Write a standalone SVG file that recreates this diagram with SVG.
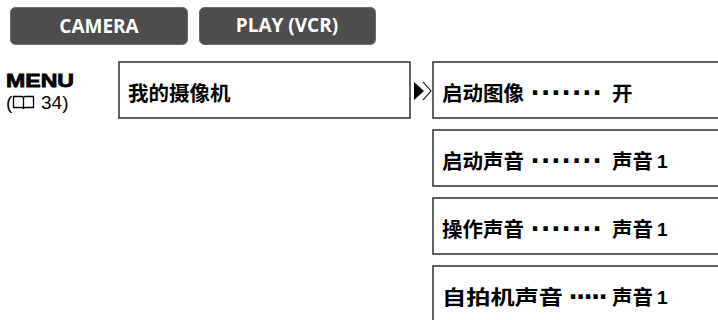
<svg xmlns="http://www.w3.org/2000/svg" width="718" height="320" viewBox="0 0 718 320">
<style>
.btn{fill:#4d4d4d;stroke:#6a6a6a;stroke-width:1}
.btxt{font-family:"Open Sans","Liberation Sans",sans-serif;font-weight:bold;font-size:19px;fill:#ffffff;text-anchor:middle}
.box{fill:#ffffff;stroke:#222222;stroke-width:1.4}
.cj{font-family:"Noto Sans CJK SC","Liberation Sans",sans-serif;font-weight:bold;font-size:20.5px;fill:#000000}
.dots{font-family:"Liberation Sans",sans-serif;font-weight:bold;font-size:31px;fill:#000000;text-anchor:middle}
.num{font-family:"Liberation Sans",sans-serif;font-weight:bold;font-size:19px;fill:#000000}
</style>
<rect width="718" height="320" fill="#ffffff"/>
<g id="btn-camera">
<rect class="btn" x="10.5" y="7.5" width="177" height="37" rx="5"/>
<text class="btxt" x="99" y="33">CAMERA</text>
</g>
<g id="btn-play">
<rect class="btn" x="199.5" y="7.5" width="176" height="37" rx="5"/>
<text class="btxt" x="287" y="32">PLAY (VCR)</text>
</g>
<g id="menu-label">
<text x="6" y="87" font-family="Liberation Sans, sans-serif" font-weight="900" font-size="19" textLength="68" lengthAdjust="spacingAndGlyphs" stroke="#000" stroke-width="0.8">MENU</text>
<text x="6" y="109" font-family="Liberation Sans, sans-serif" font-size="19">(</text>
<path d="M13.5,96.5 h8.5 q1.5,0 1.5,2 q0-2 1.5-2 h8.5 v11 h-8.5 q-1.5,0-1.5,1.5 q0-1.5-1.5-1.5 h-8.5 z M23.5,98.5 v10" fill="none" stroke="#000" stroke-width="1.3"/>
<text x="41" y="109" font-family="Liberation Sans, sans-serif" font-size="19">34)</text>
</g>
<g id="node-mycam">
<rect class="box" x="119" y="62" width="291" height="56"/>
<text class="cj" x="128" y="101" font-size="21">我的摄像机</text>
</g>
<g id="connectors">
<path d="M414,82 L424,91 L414,100 Z" fill="#000"/>
<path d="M423,82 L431,91 L423,100" fill="none" stroke="#000" stroke-width="1.1"/>
</g>
<g id="node-startimg">
<rect class="box" x="433" y="62" width="300" height="56"/>
<text class="cj" x="442" y="101">启动图像</text>
<text class="dots" x="536 546.3 556.6 567 577.3 587.6 598" y="103">·······</text>
<text class="cj" x="612" y="101">开</text>
</g>
<g id="node-startsnd">
<rect class="box" x="433" y="130" width="300" height="56"/>
<text class="cj" x="442" y="169">启动声音</text>
<text class="dots" x="536 546.3 556.6 567 577.3 587.6 598" y="171">·······</text>
<text class="cj" x="612" y="169">声音</text>
<text class="num" x="657" y="168">1</text>
</g>
<g id="node-opsnd">
<rect class="box" x="433" y="198" width="300" height="56"/>
<text class="cj" x="442" y="237">操作声音</text>
<text class="dots" x="536 546.3 556.6 567 577.3 587.6 598" y="239">·······</text>
<text class="cj" x="612" y="237">声音</text>
<text class="num" x="657" y="236">1</text>
</g>
<g id="node-timersnd">
<rect class="box" x="433" y="266" width="300" height="70"/>
<text class="cj" x="442" y="305" textLength="121" lengthAdjust="spacingAndGlyphs">自拍机声音</text>
<text class="dots" x="574 581.5 589 596.5 604" y="307">·····</text>
<text class="cj" x="612" y="305">声音</text>
<text class="num" x="657" y="304">1</text>
</g>
</svg>
